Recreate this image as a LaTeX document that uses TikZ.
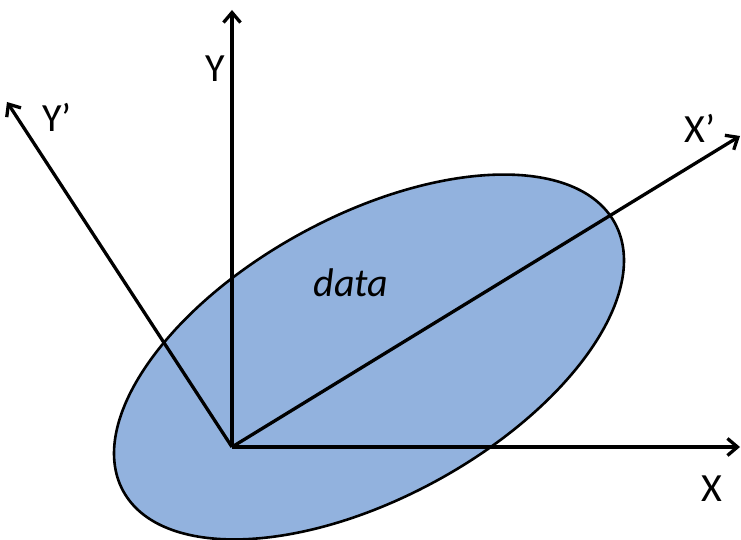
\documentclass[tikz,border=0pt]{standalone}
\usepackage{fontspec}
\setmainfont{Carlito}
\usetikzlibrary{arrows.meta}
\definecolor{datablue}{RGB}{146,178,222}

\begin{document}
\begin{tikzpicture}[x=1pt,y=1pt,
  axis/.style={line width=3.3pt,-{Straight Barb[length=10pt,width=17pt]}},
  lbl/.style={font=\fontsize{40}{44}\selectfont,anchor=base,inner sep=0pt}]
  \useasboundingbox (0,0) rectangle (741,540);
  % data cloud
  \draw[line width=2.6pt,fill=datablue,rotate around={28.6:(369,183)}]
    (369,183) ellipse [x radius=280, y radius=141];
  \node[lbl,font=\fontsize{40}{44}\selectfont\itshape] (data) at (351,243) {data};
  % original and rotated axes
  \coordinate (O) at (232,93);
  \coordinate (Xend) at (740,93);
  \coordinate (Yend) at (232,530);
  \coordinate (Xpend) at (740,404);
  \coordinate (Ypend) at (7,438);
  \draw[axis] (O) -- (Xend);
  \draw[axis] (O) -- (Yend);
  \draw[axis] (O) -- (Xpend);
  \draw[axis] (O) -- (Ypend);
  \node[lbl] (xlbl) at (712,38) {X};
  \node[lbl] (ylbl) at (215,458) {Y};
  \node[lbl] (xplbl) at (700,397) {X’};
  \node[lbl] (yplbl) at (57,408) {Y’};
\end{tikzpicture}
\end{document}
